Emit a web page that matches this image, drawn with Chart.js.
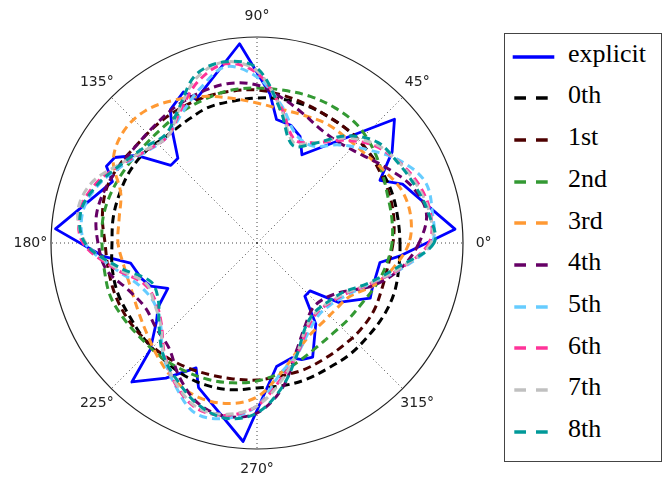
<!DOCTYPE html>
<html>
<head>
<meta charset="utf-8">
<script src="https://cdn.jsdelivr.net/npm/chart.js@4.4.0/dist/chart.umd.min.js"></script>
<style>
html,body{margin:0;padding:0;background:#fff;}
#wrap{position:relative;width:664px;height:485px;overflow:hidden;background:#fff;}
#c{position:absolute;left:0;top:0;}
#legend{position:absolute;left:504px;top:33px;width:158px;height:429px;border:1px solid #444;box-sizing:border-box;background:#fff;}
.row{position:absolute;left:0;width:100%;}
.lbl{position:absolute;left:63px;font-family:"Liberation Serif","Times New Roman",serif;font-size:26px;line-height:26px;color:#000;white-space:nowrap;}
.mk{position:absolute;left:0;}
</style>
</head>
<body>
<div id="wrap">
<canvas id="c" width="664" height="485"></canvas>
<div id="legend"></div>
</div>
<script>
// ---------------- data ----------------
const R_MAX = 206;                       // outer circle
const angleTicks = [0, 45, 90, 135, 180, 225, 270, 315];
const angleTickLabels = ['0°', '45°', '90°', '135°', '180°', '225°', '270°', '315°'];

const seriesNames  = ['explicit', '0th', '1st', '2nd', '3rd', '4th', '5th', '6th', '7th', '8th'];
const seriesColors = ['#0000ff', '#000000', '#4d0000', '#339933', '#ff9933', '#660066', '#66ccff', '#ff3399', '#c0c0c0', '#009999'];

// explicit curve: vertices (angle in degrees, radius)
const explicitAngles = [4, 22, 27, 34, 42, 63, 68, 74, 81, 85, 95, 113, 116, 123, 127, 133, 138, 144, 149, 153, 157, 176, 185, 189, 197, 202, 207, 213, 218, 225, 228, 236, 244, 248, 266, 279, 287, 291, 296, 306, 312, 318, 324, 334, 338, 351, 355];
const explicitR      = [198.5, 157, 138, 163, 185, 99, 115, 122.5, 125, 149.5, 200, 156, 168, 159, 141, 116, 116, 149, 166, 169, 157, 202, 154, 128, 121, 115, 100, 118, 127.5, 151, 187, 163, 139, 156, 199, 125, 120, 125, 127, 100, 71.5, 71.5, 101, 126, 124, 124.5, 144.5];

// approximations, sampled every 10 degrees
const sampleAngles = [0, 10, 20, 30, 40, 50, 60, 70, 80, 90, 100, 110, 120, 130, 140, 150, 160, 170, 180, 190, 200, 210, 220, 230, 240, 250, 260, 270, 280, 290, 300, 310, 320, 330, 340, 350];
const order0 = [143, 143, 144, 144, 144, 145, 145, 146, 146, 145, 144, 144, 141, 140, 144, 146, 146, 146, 145, 147, 148, 147, 148, 149, 151, 151, 149, 145, 145, 145, 144, 145, 145, 146, 146, 144];
const order1 = [136, 139, 141, 142, 144, 145, 145, 147, 150, 153, 154, 155, 155, 155, 155, 158, 160, 157, 152, 151, 151, 150, 148, 146, 143, 140, 138, 137, 135, 135, 134, 134, 135, 135, 133, 133];
const order2 = [135, 137, 139, 144, 150, 155, 156, 156, 155, 155, 155, 153, 151, 149, 149, 151, 154, 156, 155, 155, 156, 153, 150, 149, 147, 145, 142, 138, 132, 125, 120, 118, 119, 121, 126, 131];
const order3 = [152, 156, 154, 146, 140, 138, 138, 136, 136, 140, 147, 156, 165, 173, 174, 166, 145, 140, 139, 135, 134, 137, 143, 152, 161, 165, 163, 154, 133, 116, 106, 103, 103, 107, 124, 139];
const order4 = [162, 172, 165, 150, 137, 130, 130, 137, 147, 158, 162, 161, 159, 156, 155, 157, 161, 163, 159, 153, 137, 129, 132, 137, 155, 171, 176, 170, 147, 115, 96, 86, 87, 98, 124, 146];
const order5 = [175, 178, 179, 165, 145, 128, 112, 115, 140, 166, 179, 165, 150, 139, 143, 155, 169, 177, 172, 145, 125, 119, 126, 146, 164, 181, 178, 163, 133, 118, 103, 95, 96, 104, 120, 147];
const order6 = [172, 176, 172, 163, 152, 134, 116, 110, 138, 170, 182, 172, 153, 139, 144, 157, 172, 180, 174, 145, 120, 117, 125, 144, 163, 176, 175, 163, 138, 118, 100, 92, 94, 102, 120, 146];
const order7 = [174, 175, 170, 163, 154, 137, 116, 107, 137, 172, 184, 176, 155, 139, 145, 158, 176, 182, 171, 143, 118, 119, 126, 145, 162, 175, 174, 163, 140, 117, 98, 91, 93, 101, 119, 145];
const order8 = [177, 174, 168, 162, 157, 140, 115, 104, 135, 175, 184, 179, 156, 142, 148, 157, 170, 179, 172, 140, 113, 114, 128, 146, 159, 172, 178, 170, 146, 118, 97, 90, 92, 99, 118, 142];

// ---------------- build radar table (1 degree slots, counter-clockwise) ----------------
const N = 360;
const slotLabels = [];
for (let j = 0; j < N; j++) slotLabels.push((N - j) % N);
function toSlots(angles, values) {
  const arr = new Array(N).fill(null);
  angles.forEach((a, k) => { arr[(N - Math.round(a)) % N] = values[k]; });
  return arr;
}

const approxSeries = [order0, order1, order2, order3, order4, order5, order6, order7, order8];
const datasets = [{
  label: seriesNames[0],
  data: toSlots(explicitAngles, explicitR),
  borderColor: seriesColors[0],
  backgroundColor: 'transparent',
  borderWidth: 2.8,
  borderJoinStyle: 'round',
  fill: false,
  spanGaps: true,
  tension: 0,
  pointRadius: 0,
  pointHoverRadius: 0,
  order: 20
}];
approxSeries.forEach((vals, k) => {
  datasets.push({
    label: seriesNames[k + 1],
    data: toSlots(sampleAngles, vals),
    borderColor: seriesColors[k + 1],
    backgroundColor: 'transparent',
    borderWidth: 3,
    borderDash: [8, 5],
    borderJoinStyle: 'round',
    fill: false,
    spanGaps: true,
    tension: 0.35,
    pointRadius: 0,
    pointHoverRadius: 0,
    order: 10 - k
  });
});

const angleLabelPlugin = {
  id: 'angleLabels',
  afterDraw(chart) {
    const s = chart.scales.r;
    const ctx = chart.ctx;
    ctx.save();
    ctx.font = '14px "DejaVu Sans", sans-serif';
    ctx.fillStyle = '#222';
    ctx.textAlign = 'center';
    ctx.textBaseline = 'middle';
    angleTicks.forEach((a, k) => {
      const j = (N - a) % N;
      const p = s.getPointPosition(j, s.drawingArea * 1.1);
      ctx.fillText(angleTickLabels[k], p.x, p.y);
    });
    ctx.restore();
  }
};

new Chart(document.getElementById('c'), {
  type: 'radar',
  data: { labels: slotLabels, datasets: datasets },
  options: {
    responsive: false,
    animation: false,
    events: [],
    layout: { padding: { left: 51, top: 37, right: 201, bottom: 36 } },
    plugins: { legend: { display: false }, tooltip: { enabled: false } },
    scales: {
      r: {
        min: 0,
        max: R_MAX,
        startAngle: 90,
        ticks: { display: false, stepSize: R_MAX },
        grid: { circular: true, color: '#222', lineWidth: 1.2 },
        angleLines: {
          display: true,
          color: (c) => (c.index % 45 === 0 ? '#444' : 'rgba(0,0,0,0)'),
          lineWidth: (c) => (c.index % 45 === 0 ? 1 : 0),
          borderDash: [1, 3]
        },
        pointLabels: { display: false, callback: (v) => (v % 45 === 0 ? v + '°' : '') }
      }
    }
  },
  plugins: [angleLabelPlugin]
});

// ---------------- legend ----------------
const leg = document.getElementById('legend');
seriesNames.forEach((name, k) => {
  const cy = 22.5 + 41.7 * k;  // relative to legend box
  const row = document.createElement('div');
  row.className = 'row';
  row.style.top = '0px';
  const svgNS = 'http://www.w3.org/2000/svg';
  const svg = document.createElementNS(svgNS, 'svg');
  svg.setAttribute('width', '50');
  svg.setAttribute('height', '10');
  svg.setAttribute('class', 'mk');
  svg.style.left = '6px';
  svg.style.top = (cy - 5) + 'px';
  const addLine = (x1, x2) => {
    const l = document.createElementNS(svgNS, 'line');
    l.setAttribute('x1', x1); l.setAttribute('x2', x2);
    l.setAttribute('y1', 5); l.setAttribute('y2', 5);
    l.setAttribute('stroke', seriesColors[k]);
    l.setAttribute('stroke-width', '3.5');
    svg.appendChild(l);
  };
  if (k === 0) addLine(1.7, 43.3); else { addLine(3.3, 15); addLine(25, 36.7); }
  row.appendChild(svg);
  const t = document.createElement('span');
  t.className = 'lbl';
  t.textContent = name;
  t.style.top = (cy + 6 - 21.8) + 'px';
  row.appendChild(t);
  leg.appendChild(row);
});
</script>
</body>
</html>
